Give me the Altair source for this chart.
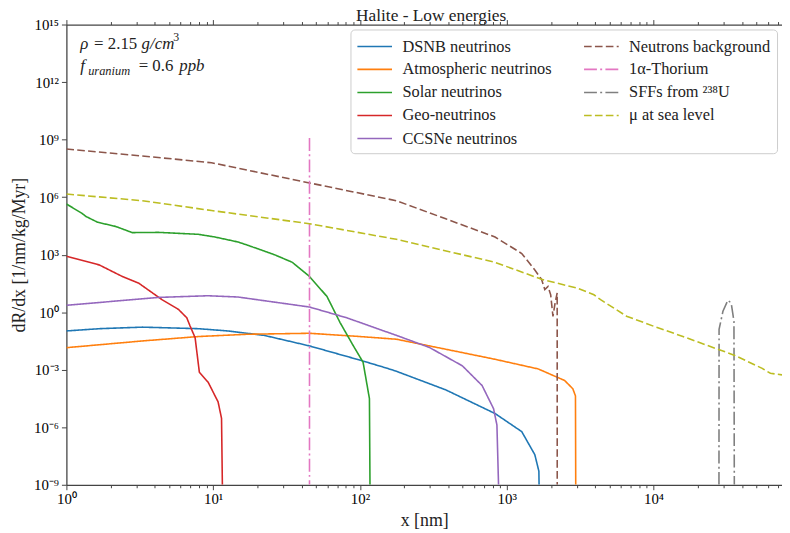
import altair as alt
import pandas as pd

FONT = "Liberation Serif"

# ---------------- data ----------------
series_names = ["DSNB neutrinos", "Atmospheric neutrinos", "Solar neutrinos",
                "Geo-neutrinos", "CCSNe neutrinos", "Neutrons background",
                "1α-Thorium", "SFFs from ²³⁸U", "μ at sea level"]

dsnb_x = [1.0, 1.68, 3.29, 7.92, 12.6, 22.3, 45.3, 100, 151, 177, 384, 832, 1265, 1553, 1655, 1660]
dsnb_y = [0.105, 0.138, 0.166, 0.138, 0.105, 0.0617, 0.0174, 0.00316, 0.00123, 8.3e-4, 8.9e-5,
          5.2e-6, 5.9e-7, 3.7e-8, 5.1e-9, 1e-9]

atm_x = [1.0, 3.29, 7.92, 17.2, 45.3, 100, 177, 384, 832, 1637, 2477, 2818, 2938, 2950]
atm_y = [0.0141, 0.0316, 0.0537, 0.0708, 0.0794, 0.0537, 0.0389, 0.0117, 3.5e-3, 1.1e-3,
         2.75e-4, 1.02e-4, 4.3e-5, 1e-9]

solar_x = [1.0, 1.29, 1.36, 1.63, 2.17, 2.81, 4.26, 7.92, 10.3, 14.7, 17.2, 26.1, 34.6, 44.9,
           59.6, 73.3, 90.2, 105, 116, 117]
solar_y = [4.4e5, 1.35e5, 9.8e4, 4.9e4, 2.95e4, 1.41e4, 1.45e4, 1.15e4, 8.3e3, 4.6e3, 3.1e3,
           1.0e3, 398, 77.6, 6.6, 0.28, 0.0174, 2.45e-3, 3.1e-5, 1e-9]

geo_x = [1.0, 1.68, 2.41, 3.12, 4.48, 5.81, 6.61, 6.96, 7.53, 8.05, 9.25, 10.8, 11.4, 11.55]
geo_y = [832, 288, 72, 32, 4.5, 1.38, 0.51, 0.19, 0.047, 7.4e-4, 2.2e-4, 2.1e-5, 2.9e-6, 1e-9]

ccsne_x = [1.0, 4.26, 9.25, 14.7, 45.3, 81.3, 151, 177, 297, 498, 679, 813, 857, 879]
ccsne_y = [2.29, 5.9, 7.2, 6.2, 1.86, 0.51, 0.095, 0.062, 0.0145, 1.6e-3, 1.5e-4, 9.3e-6,
           1.3e-6, 1e-9]

neutron_x = [1.0, 3.29, 9.74, 45.3, 177, 384, 832, 1265, 1553, 1726, 1816, 1910, 1992, 2064,
             2137, 2205, 2207]
neutron_y = [3.2e8, 1.4e8, 6.2e7, 5.5e6, 6.5e5, 7.4e4, 8.3e3, 1.15e3, 158, 52, 15, 22, 8, 0.6,
             3.2, 10, 1e-9]

thorium_x = [45.3, 45.3]
thorium_y = [1.2e9, 1e-9]

sff_x = [27900, 27950, 29700, 32100, 33800, 35300, 35500]
sff_y = [1e-9, 0.126, 1.12, 4.2, 3.0, 0.34, 1e-9]

muon_x = [1.0, 3.29, 9.74, 45.3, 177, 832, 1726, 3034, 3926, 4357, 6546, 10000, 15850, 28050,
          35400, 55000, 62500, 75000]
muon_y = [1.45e6, 6.5e5, 2.0e5, 4.1e4, 6.3e3, 398, 52, 17.8, 8.1, 4.5, 0.62, 0.186, 0.054,
          0.011, 5.75e-3, 1.17e-3, 6.5e-4, 5.4e-4]

series_x = [dsnb_x, atm_x, solar_x, geo_x, ccsne_x, neutron_x, thorium_x, sff_x, muon_x]
series_y = [dsnb_y, atm_y, solar_y, geo_y, ccsne_y, neutron_y, thorium_y, sff_y, muon_y]

series_colors = ["#1f77b4", "#ff7f0e", "#2ca02c", "#d62728", "#9467bd",
                 "#8c564b", "#e377c2", "#7f7f7f", "#bcbd22"]
series_dash = [[1, 0], [1, 0], [1, 0], [1, 0], [1, 0],
               [7.7, 3.3], [13, 3.3, 2, 3.3], [13, 3.3, 2, 3.3], [7.7, 3.3]]

x_major = [1, 10, 100, 1000, 10000]
x_tick_labels = ["10⁰", "10¹", "10²", "10³", "10⁴"]
x_minor = [m * d for d in [1, 10, 100, 1000, 10000] for m in range(2, 10) if m * d <= 75000]
y_major_exp = [-9, -6, -3, 0, 3, 6, 9, 12, 15]
y_tick_labels = ["10⁻⁹", "10⁻⁶", "10⁻³", "10⁰", "10³", "10⁶", "10⁹", "10¹²", "10¹⁵"]

# ---------------- build table ----------------
rows = []
for k, name in enumerate(series_names):
    for i, (xv, yv) in enumerate(zip(series_x[k], series_y[k])):
        rows.append({"series": name, "x": xv, "y": yv, "i": i, "k": k})
df = pd.DataFrame(rows)

is_major = "abs(log(datum.value)/LN10 - round(log(datum.value)/LN10)) < 1e-6"
x_label_expr = ""
for v, lab in zip(x_major, x_tick_labels):
    x_label_expr += f"datum.value == {v} ? '{lab}' : "
x_label_expr += "''"
y_label_expr = ""
for e, lab in zip(y_major_exp, y_tick_labels):
    y_label_expr += f"round(log(datum.value)/LN10) == {e} ? '{lab}' : "
y_label_expr += "''"

xscale = alt.Scale(type="log", domain=[1, 75000])
yscale = alt.Scale(type="log", domain=[1e-9, 1e15])

tick_size = {"condition": {"test": is_major, "value": 5}, "value": 3}

axis_common = dict(grid=False, domainColor="#444444", domainWidth=1.3, tickColor="#444444",
                   tickWidth=1, labelFont=FONT, labelFontSize=15, labelColor="black",
                   labelFlush=False, labelOverlap=False)
title_common = dict(titleFont=FONT, titleFontSize=18, titleFontWeight="normal",
                    titleColor="#222222")

x_axis_bottom = alt.Axis(orient="bottom", values=x_major + x_minor, labelExpr=x_label_expr,
                         tickSize=tick_size, title="x [nm]", labelPadding=2, titlePadding=5,
                         **axis_common, **title_common)
x_axis_top = alt.Axis(orient="top", values=x_major + x_minor, labels=False,
                      tickSize=tick_size, title=None, **axis_common)
y_axis = alt.Axis(values=[10.0 ** e for e in y_major_exp], labelExpr=y_label_expr, tickSize=5,
                  title="dR/dx [1/nm/kg/Myr]", labelPadding=3, titlePadding=5,
                  **axis_common, **title_common)

# a wide horizontal stroke drawn inside a small symbol box (keeps rows compact)
legend = alt.Legend(title=None, orient="none", legendX=287, legendY=5, columns=2,
                    columnPadding=28, rowPadding=3.3, symbolType="M-1.75,0H1.75", symbolSize=400,
                    symbolOffset=7.5, symbolStrokeWidth=1.6, labelFont=FONT, labelFontSize=16.5,
                    labelColor="#222222", labelLimit=400, labelOffset=17,
                    fillColor="rgba(255,255,255,0.8)", strokeColor="#cccccc", cornerRadius=4,
                    padding=6)

lines = alt.Chart(df).mark_line(strokeWidth=1.6, clip=True).encode(
    x=alt.X("x:Q", scale=xscale, axis=x_axis_bottom),
    y=alt.Y("y:Q", scale=yscale, axis=y_axis),
    color=alt.Color("series:N", scale=alt.Scale(domain=series_names, range=series_colors),
                    legend=legend),
    strokeDash=alt.StrokeDash("series:N", scale=alt.Scale(domain=series_names, range=series_dash),
                              legend=legend),
    order="i:Q",
    detail="k:N",
)

top = alt.Chart(df).mark_tick(opacity=0).encode(
    x=alt.X("x:Q", scale=xscale, axis=x_axis_top),
)


def txt(s, px, py, size=17, style="normal"):
    return alt.Chart(alt.Data(values=[{"a": 1}])).mark_text(
        text=s, align="left", baseline="alphabetic", font=FONT, fontSize=size,
        fontStyle=style, color="#222222"
    ).encode(x=alt.value(px - 67), y=alt.value(py - 22))


ann = [
    txt("ρ", 81, 47, 17, "italic"),
    txt("= 2.15", 95, 47),
    txt("g/cm", 143, 47, 17, "italic"),
    txt("3", 175, 39, 12),
    txt("f", 81, 69, 17, "italic"),
    txt("uranium", 89, 73, 12.5, "italic"),
    txt("= 0.6", 140, 69),
    txt("ppb", 181, 69, 17, "italic"),
]

chart = alt.layer(lines, top, *ann).resolve_axis(x="independent").properties(
    width=723, height=465,
    autosize=alt.AutoSizeParams(type="none"),
    padding={"left": 59, "top": 14, "right": 0, "bottom": 44},
    title=alt.TitleParams("Halite - Low energies", font=FONT, fontSize=17.5,
                          fontWeight="normal", color="#222222", anchor="middle",
                          offset=-6.5, dx=7),
).configure_view(stroke=None)

chart.save("out.html", embed_options={"renderer": "svg", "actions": False})
